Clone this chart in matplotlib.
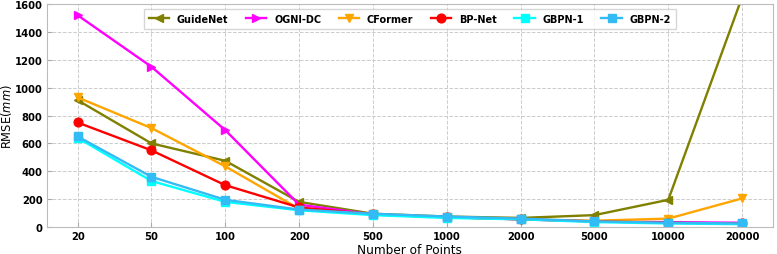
import matplotlib
matplotlib.use('Agg')
import matplotlib.pyplot as plt

points = ['20', '50', '100', '200', '500', '1000', '2000', '5000', '10000', '20000']

guidenet = [910, 600, 475, 180, 95, 75, 65, 85, 195, 1650]
ognidc = [1520, 1150, 695, 160, 90, 70, 55, 40, 35, 30]
cformer = [930, 710, 435, 130, 90, 70, 55, 45, 60, 205]
bpnet = [750, 550, 300, 140, 90, 70, 55, 40, 30, 25]
gbpn1 = [640, 330, 180, 120, 85, 65, 55, 35, 25, 20]
gbpn2 = [650, 360, 195, 125, 95, 75, 60, 40, 30, 25]

series = [
    ('GuideNet', guidenet, '#808000', '<'),
    ('OGNI-DC', ognidc, '#ff00ff', '>'),
    ('CFormer', cformer, '#ffa500', 'v'),
    ('BP-Net', bpnet, '#ff0000', 'o'),
    ('GBPN-1', gbpn1, '#00ffff', 's'),
    ('GBPN-2', gbpn2, '#33bbf5', 's'),
]

fig, ax = plt.subplots(figsize=(7.77, 2.55), dpi=100)
x = range(len(points))
for name, vals, c, m in series:
    ax.plot(x, vals, color=c, marker=m, markersize=6.3, linewidth=1.7, label=name)

ax.set_xticks(list(x))
ax.set_xticklabels(points)
ax.set_xlim(-0.42, 9.42)
ax.set_ylim(0, 1600)
ax.set_yticks(range(0, 1601, 200))
ax.set_xlabel('Number of Points', fontsize=8.7, labelpad=1)
ax.set_ylabel('RMSE($mm$)', fontsize=8.3, labelpad=0.5)
ax.tick_params(direction='in', labelsize=7.2, color='#aaaaaa', pad=3)
for lab in ax.get_xticklabels() + ax.get_yticklabels():
    lab.set_fontweight('bold')
for s in ax.spines.values():
    s.set_color('#bbbbbb')
ax.grid(True, linestyle='--', color='#cccccc', linewidth=0.7)
ax.legend(loc='upper center', ncol=6, prop={'size': 7, 'weight': 'bold'}, frameon=True,
          edgecolor='#cccccc', fancybox=False, bbox_to_anchor=(0.5, 1.0),
          handlelength=2.1, columnspacing=1.8, borderpad=0.5)

plt.subplots_adjust(left=0.06, right=0.995, top=0.98, bottom=0.106)
plt.savefig('out.png', dpi=100)
